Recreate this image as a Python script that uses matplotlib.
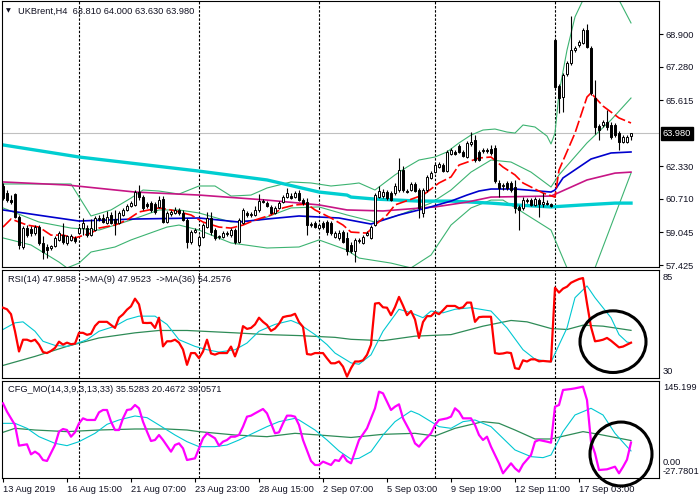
import matplotlib
matplotlib.use("Agg")
import matplotlib.pyplot as plt
import matplotlib.transforms as mtransforms
from matplotlib.patches import Ellipse

plt.rcParams['font.family'] = ['Liberation Sans', 'DejaVu Sans']

# ---- candles UKBrent H4 (bar index 0..157) ----
opens = [61.35, 61.00, 60.65, 60.95, 59.80, 58.30, 59.25, 59.20, 59.00, 59.30,
         58.50, 58.30, 58.25, 58.35, 58.65, 58.90, 58.50, 58.65, 58.75, 59.00,
         59.25, 59.25, 58.90, 59.15, 59.70, 59.75, 59.50, 59.90, 59.70, 59.50,
         59.90, 60.15, 60.35, 60.40, 61.05, 60.80, 60.45, 60.50, 60.45, 60.30,
         60.70, 59.55, 59.95, 60.00, 60.15, 60.00, 59.65, 58.55, 59.05, 58.40,
         58.80, 59.30, 59.75, 59.15, 58.80, 58.80, 58.95, 58.90, 59.15, 58.55,
         59.50, 60.00, 59.90, 59.90, 60.15, 60.60, 60.50, 60.30, 60.00, 60.25,
         60.55, 60.80, 60.85, 60.80, 61.00, 60.65, 60.55, 59.40, 59.50, 59.25,
         59.50, 59.55, 59.50, 58.80, 58.75, 59.05, 58.75, 58.40, 58.10, 58.60,
         58.50, 58.90, 58.75, 59.40, 60.80, 60.85, 61.05, 61.00, 61.00, 61.15,
         62.15, 61.10, 61.15, 61.45, 61.15, 60.00, 61.15, 61.75, 62.05, 62.30,
         62.40, 62.10, 62.95, 63.05, 63.35, 63.05, 62.80, 63.45, 63.65, 63.05,
         63.10, 63.15, 63.20, 63.25, 61.50, 61.35, 61.50, 61.50, 61.30, 60.30,
         60.25, 60.60, 60.65, 60.40, 60.65, 60.45, 60.50, 60.45, 68.60, 66.32,
         65.77, 66.91, 67.46, 68.11, 68.35, 68.45, 69.10, 68.20, 65.72, 64.33,
         64.38, 64.53, 64.38, 64.38, 63.98, 63.53, 63.53, 63.81]
highs = [61.50, 61.15, 60.90, 61.00, 59.90, 59.35, 59.40, 59.35, 59.40, 59.40,
         58.85, 58.45, 58.40, 58.85, 59.10, 59.50, 58.90, 58.95, 58.85, 59.35,
         59.75, 59.40, 59.70, 59.85, 59.90, 59.95, 60.10, 60.05, 60.15, 60.10,
         60.25, 60.45, 60.60, 61.15, 61.40, 60.90, 60.55, 60.60, 60.55, 60.85,
         60.85, 60.10, 60.15, 60.30, 60.25, 60.15, 59.75, 59.15, 59.25, 58.90,
         59.50, 60.05, 60.05, 59.25, 58.90, 59.10, 59.10, 59.25, 59.25, 59.75,
         60.25, 60.10, 60.05, 60.35, 60.95, 60.70, 60.60, 60.40, 60.35, 60.60,
         60.90, 61.25, 61.00, 61.10, 61.15, 60.75, 60.75, 59.55, 59.60, 59.50,
         59.60, 59.65, 59.60, 59.10, 59.15, 59.15, 59.05, 58.55, 58.75, 58.75,
         58.90, 59.10, 59.40, 61.00, 61.35, 61.20, 61.15, 61.10, 61.50, 62.75,
         62.35, 61.20, 61.55, 61.55, 61.25, 61.25, 61.90, 62.10, 62.50, 62.55,
         62.50, 63.15, 63.25, 63.15, 63.45, 63.15, 63.60, 64.05, 63.90, 63.15,
         63.25, 63.25, 63.40, 63.40, 61.65, 61.50, 61.60, 61.60, 61.65, 60.40,
         60.80, 60.75, 60.75, 60.80, 60.75, 61.00, 60.65, 60.50, 68.70, 66.42,
         66.96, 67.56, 69.79, 68.30, 68.60, 69.20, 69.40, 68.30, 66.62, 64.43,
         64.63, 65.12, 64.53, 64.48, 64.08, 63.88, 63.88, 64.00]
lows = [60.65, 60.55, 60.45, 59.75, 58.20, 58.20, 58.80, 58.85, 58.90, 58.40,
        57.70, 57.75, 58.15, 58.30, 58.60, 58.45, 58.40, 58.60, 58.50, 58.95,
        58.90, 58.80, 58.85, 59.10, 59.60, 59.50, 59.45, 59.45, 58.90, 59.45,
        59.85, 60.10, 60.30, 60.35, 60.65, 60.15, 60.25, 60.05, 59.95, 60.25,
        59.50, 59.50, 59.85, 59.95, 59.90, 59.60, 58.25, 58.45, 59.00, 58.30,
        58.75, 59.25, 58.90, 58.65, 58.70, 58.75, 58.85, 58.80, 58.45, 58.50,
        59.45, 59.80, 59.80, 59.85, 60.05, 60.50, 60.30, 59.95, 59.95, 60.20,
        60.50, 60.75, 60.70, 60.75, 60.60, 60.40, 58.90, 59.30, 59.25, 59.20,
        59.20, 58.90, 58.90, 58.75, 58.65, 58.50, 57.90, 58.00, 57.55, 58.50,
        58.45, 58.85, 58.70, 59.35, 60.75, 60.75, 60.65, 60.60, 60.90, 61.05,
        61.05, 61.00, 61.10, 61.05, 59.75, 59.80, 61.05, 61.70, 62.00, 62.25,
        62.05, 62.05, 62.90, 62.90, 63.00, 62.80, 62.75, 63.35, 62.55, 62.60,
        63.00, 63.00, 62.90, 61.50, 60.80, 61.15, 61.15, 61.05, 60.00, 59.15,
        60.15, 60.50, 60.35, 60.35, 59.80, 60.30, 60.40, 60.30, 66.22, 64.98,
        65.03, 66.81, 67.36, 68.01, 68.25, 68.40, 68.20, 65.87, 63.93, 63.63,
        64.28, 64.13, 63.68, 63.78, 63.14, 63.49, 63.49, 63.63]
closes = [60.75, 60.65, 60.55, 59.80, 58.40, 59.25, 58.90, 59.00, 59.30, 58.50,
          58.05, 58.15, 58.35, 58.75, 59.00, 58.55, 58.85, 58.85, 58.60, 59.25,
          59.50, 58.90, 59.25, 59.75, 59.75, 59.55, 59.80, 59.50, 59.50, 60.00,
          60.15, 60.35, 60.50, 61.05, 60.80, 60.25, 60.35, 60.15, 60.05, 60.65,
          59.55, 60.00, 60.05, 60.15, 60.00, 59.65, 58.55, 59.05, 59.15, 58.80,
          59.40, 59.75, 59.05, 58.75, 58.85, 59.00, 59.00, 59.15, 58.55, 59.65,
          60.15, 59.90, 59.95, 60.15, 60.60, 60.55, 60.35, 60.00, 60.25, 60.50,
          60.80, 61.00, 60.75, 61.00, 60.65, 60.50, 59.40, 59.45, 59.30, 59.40,
          59.30, 59.05, 59.00, 59.00, 59.00, 58.55, 58.10, 58.10, 58.65, 58.65,
          58.80, 59.00, 59.30, 60.90, 61.10, 61.05, 60.75, 60.65, 61.35, 62.15,
          61.15, 61.05, 61.45, 61.10, 60.25, 61.15, 61.80, 62.00, 62.40, 62.45,
          62.10, 63.05, 63.15, 62.95, 63.05, 62.85, 63.50, 63.55, 62.65, 62.65,
          63.15, 63.10, 63.00, 61.60, 61.25, 61.40, 61.25, 61.15, 60.25, 60.15,
          60.65, 60.65, 60.40, 60.70, 60.45, 60.55, 60.45, 60.35, 66.27, 65.72,
          66.86, 67.46, 68.11, 68.21, 68.50, 69.10, 68.25, 65.97, 64.28, 64.13,
          64.53, 64.28, 63.78, 63.88, 63.53, 63.78, 63.78, 63.98]

# ---- main window indicators (bar index, price) ----
ma_cyan_bars = [0, 19, 49, 66, 79, 86, 87, 93, 104, 112, 122, 128, 137, 145, 153, 157]
ma_cyan_vals = [63.39, 62.79, 62.09, 61.65, 61.05, 60.90, 60.80, 60.70, 60.60, 60.60,
                60.50, 60.41, 60.31, 60.41, 60.50, 60.50]
ma_mag_bars = [0, 16, 33, 49, 66, 79, 86, 95, 108, 116, 122, 137, 146, 153, 157]
ma_mag_vals = [61.55, 61.40, 61.05, 60.90, 60.65, 60.41, 60.16, 60.11, 60.31, 60.55,
               60.80, 60.85, 61.65, 61.99, 62.04]
ma_blue_bars = [0, 12, 19, 33, 49, 59, 66, 74, 79, 84, 92, 99, 106, 112, 116, 119,
                122, 128, 137, 138, 140, 147, 152, 157]
ma_blue_vals = [60.16, 59.81, 59.61, 59.71, 59.76, 59.56, 59.71, 59.86, 59.81, 59.76,
                59.46, 59.91, 60.26, 60.60, 60.90, 61.10, 61.20, 61.20, 61.05, 61.15,
                61.75, 62.69, 62.99, 63.04]
ma_red_bars = [0, 2, 6, 9, 12, 15, 18, 22, 24, 28, 31, 34, 39, 42, 47, 50, 54, 57, 60, 63,
               67, 70, 73, 76, 78, 82, 85, 87, 91, 93, 96, 98, 105, 109, 112, 114, 119,
               122, 125, 128, 130, 135, 138, 139, 143, 146, 147, 150, 154, 157]
ma_red_vals = [59.31, 59.71, 59.41, 59.31, 58.91, 58.91, 58.77, 59.01, 59.26, 59.41,
               59.66, 60.06, 60.26, 60.16, 59.91, 59.56, 59.31, 59.26, 59.41, 59.66,
               59.91, 60.26, 60.41, 60.45, 60.16, 59.76, 59.41, 59.06, 59.01, 59.41,
               59.91, 60.41, 60.90, 61.50, 61.80, 62.39, 62.74, 62.79, 62.29, 61.90,
               61.50, 61.00, 60.80, 62.14, 63.98, 65.77, 65.97, 65.32, 64.73, 64.48]
bb_up_bars = [0, 17, 22, 27, 32, 35, 39, 44, 49, 53, 57, 62, 66, 72, 77, 82, 87, 89, 93,
              98, 101, 104, 108, 111, 114, 117, 120, 123, 126, 128, 130, 133, 136, 137,
              138, 139, 141, 143, 145, 147, 150, 154, 157]
bb_up_vals = [61.45, 61.45, 59.86, 60.16, 60.75, 61.15, 61.10, 60.95, 61.35, 61.35,
              60.85, 60.90, 61.25, 61.55, 61.50, 61.35, 61.45, 61.50, 61.15, 61.90,
              62.29, 62.64, 62.79, 63.04, 63.49, 63.88, 64.13, 64.18, 64.03, 63.98,
              64.38, 64.28, 63.83, 63.44, 63.98, 65.97, 68.10, 69.75, 70.59, 71.19,
              71.48, 70.59, 69.45]
bb_mid_bars = [0, 9, 17, 24, 32, 39, 44, 49, 57, 64, 72, 79, 86, 93, 99, 107, 112, 117,
               122, 127, 132, 137, 139, 146, 152, 157]
bb_mid_vals = [60.26, 59.56, 59.26, 59.16, 59.66, 60.16, 60.16, 60.01, 59.56, 59.66,
               60.26, 60.31, 59.91, 59.56, 59.91, 60.50, 61.15, 62.04, 62.64, 62.54,
               62.04, 61.30, 61.90, 63.49, 64.63, 65.72]
bb_lo_bars = [0, 7, 14, 16, 19, 22, 28, 32, 41, 44, 49, 57, 66, 74, 79, 86, 89, 97, 102,
              107, 112, 117, 122, 125, 129, 137, 141, 144, 148, 157]
bb_lo_vals = [58.77, 58.42, 57.57, 57.28, 57.52, 58.07, 58.32, 58.67, 59.31, 59.41,
              59.16, 58.52, 58.27, 58.32, 58.67, 58.17, 57.77, 57.52, 57.28, 57.92,
              59.41, 60.26, 60.65, 60.65, 60.16, 59.16, 57.28, 56.43, 57.28, 61.99]

# ---- RSI(14) window ----
rsi = [65.8, 65.0, 62.5, 53.8, 43.5, 49.5, 49.5, 48.7, 49.5, 47.0,
       43.2, 42.7, 43.8, 45.3, 48.5, 47.0, 48.0, 47.2, 47.5, 53.0,
       53.0, 52.0, 52.5, 56.5, 58.6, 58.6, 58.6, 57.0, 55.5, 60.7,
       62.4, 64.8, 66.5, 70.4, 67.5, 58.1, 58.0, 58.1, 55.5, 60.7,
       46.1, 48.7, 48.7, 49.5, 48.0, 44.5, 36.7, 42.7, 42.7, 40.1,
       43.5, 49.5, 42.5, 41.9, 42.7, 42.7, 42.7, 46.0, 41.0, 46.5,
       56.4, 55.0, 55.5, 57.3, 60.7, 58.6, 57.0, 54.0, 55.2, 57.6,
       61.0, 61.5, 61.8, 62.7, 58.5, 56.0, 42.2, 41.9, 42.7, 42.7,
       42.7, 40.0, 37.5, 37.5, 38.4, 35.8, 30.7, 35.0, 38.4, 38.4,
       39.0, 41.8, 47.0, 67.9, 68.2, 66.0, 65.8, 62.0, 66.1, 71.3,
       66.9, 62.0, 64.1, 59.8, 50.4, 58.5, 61.5, 61.5, 63.5, 62.5,
       64.5, 66.7, 66.7, 66.7, 65.5, 66.0, 68.4, 68.4, 58.6, 61.0,
       61.2, 61.2, 61.2, 42.7, 42.3, 42.5, 43.0, 42.7, 35.0, 34.6,
       39.0, 38.4, 39.5, 39.5, 38.5, 38.7, 38.5, 38.4, 76.0, 73.5,
       75.5, 76.5, 78.5, 79.5, 80.4, 80.9, 68.0, 56.0, 48.7, 49.0,
       49.5, 50.4, 49.0, 47.3, 45.6, 46.0, 47.0, 47.99]
rsi_ma9_bars = [0, 3, 5, 8, 10, 13, 16, 18, 21, 24, 28, 31, 34, 38, 41, 44, 48, 51, 54,
                58, 61, 64, 68, 72, 74, 78, 81, 83, 87, 89, 92, 95, 99, 102, 105, 107,
                110, 113, 117, 122, 126, 130, 133, 137, 141, 143, 146, 148, 152, 154,
                156, 157]
rsi_ma9_vals = [54.7, 58.1, 58.6, 53.8, 48.7, 46.6, 46.1, 47.3, 49.5, 53.8,
                56.4, 59.8, 61.5, 61.5, 57.3, 49.5, 46.1, 44.4, 43.2, 44.4,
                47.8, 53.8, 57.3, 59.3, 57.6, 52.1, 47.0, 42.7, 37.7, 37.0,
                41.8, 53.8, 65.0, 63.2, 60.7, 64.1, 63.2, 65.0, 65.8, 64.1,
                55.5, 44.4, 39.6, 38.1, 55.5, 70.9, 76.9, 70.9, 60.7, 52.1,
                48.3, 47.95]
rsi_ma36_bars = [0, 8, 16, 24, 33, 39, 46, 58, 66, 74, 83, 87, 95, 103, 112, 120, 127,
                 131, 137, 141, 145, 150, 157]
rsi_ma36_vals = [36.4, 41.0, 46.1, 50.4, 53.0, 54.2, 54.2, 53.0, 52.1, 51.6, 50.7, 49.7,
                 49.0, 51.3, 52.1, 56.4, 59.3, 58.6, 55.2, 54.7, 56.9, 56.4, 54.26]

# ---- CFG_MO window ----
mo_bars = [0, 1, 3, 4, 5, 6, 7, 8, 9, 10, 11, 13, 14, 15, 16, 17, 18, 19, 20, 21,
           23, 24, 25, 26, 27, 28, 29, 30, 31, 32, 33, 34, 35, 36, 37, 38, 39, 40, 42, 43,
           44, 45, 46, 48, 49, 50, 51, 53, 54, 55, 56, 57, 58, 59, 60, 61, 62, 63, 65, 66,
           67, 68, 69, 70, 71, 72, 73, 74, 75, 77, 78, 79, 80, 82, 83, 84, 85, 86, 87, 88,
           89, 91, 93, 94, 95, 96, 97, 98, 99, 100, 102, 103, 104, 105, 107, 108, 109,
           111, 112, 113, 114, 115, 117, 118, 119, 120, 121, 122, 124, 125, 126, 127,
           128, 129, 130, 132, 133, 134, 136, 137, 138, 139, 140, 142, 143, 145, 146,
           147, 148, 149, 151, 153, 154, 155, 156, 157]
mo_vals = [105.4, 90.5, 66.7, 29.9, 31.1, 32.3, 14.4, 19.2, 14.4, 4.3,
           2.6, 31.1, 54.9, 59.6, 57.8, 45.9, 53.7, 69.7, 78.6, 75.7,
           75.7, 89.3, 93.5, 93.5, 72.7, 57.8, 57.8, 78.6, 93.5, 94.7,
           102.4, 96.5, 72.7, 54.9, 38.2, 40.0, 48.9, 40.0, 19.2, 31.1,
           34.0, 25.1, 4.3, 7.3, 25.1, 43.0, 51.9, 43.0, 29.9, 37.0,
           40.0, 45.9, 45.9, 48.9, 63.8, 81.6, 83.4, 87.5, 95.3, 87.5,
           69.7, 51.9, 53.7, 69.7, 83.4, 83.4, 81.6, 66.7, 40.0, 2.6,
           -4.6, -4.6, 1.4, -4.6, 4.3, 2.6, 13.2, 2.6, -1.6, 19.2,
           40.0, 60.8, 96.5, 126.2, 123.2, 108.3, 93.5, 99.4, 103.6, 78.6,
           51.9, 34.0, 28.1, 37.0, 51.9, 66.7, 75.7, 78.6, 81.6, 96.5,
           90.5, 78.6, 78.6, 66.7, 48.9, 40.0, 45.9, 28.1, -1.6, -19.4,
           -10.5, -1.6, -10.5, -16.5, -3.4, 13.2, 37.0, 40.0, 37.0, 35.2,
           99.4, 102.4, 129.2, 130.9, 132.1, 135.1, 111.3, 37.0, 16.2, -13.5,
           -12.3, -7.6, -19.4, -8.0, 5.0, 35.53]
mo_sig_bars = [0, 3, 6, 9, 13, 16, 19, 23, 26, 29, 33, 36, 39, 43, 46, 49, 53, 56, 59, 63,
               66, 69, 73, 74, 78, 81, 84, 87, 89, 92, 95, 98, 102, 104, 107, 109, 112,
               115, 118, 122, 125, 128, 132, 135, 137, 140, 143, 147, 150, 153, 156, 157]
mo_sig_vals = [69.7, 69.7, 60.8, 45.9, 34.0, 29.9, 37.0, 51.9, 67.9, 75.7,
               82.8, 79.8, 66.7, 48.9, 37.0, 28.1, 28.1, 31.1, 40.0, 53.7,
               63.8, 72.7, 78.6, 75.7, 57.8, 40.0, 20.4, 5.8, 7.3, 19.2,
               48.9, 72.7, 91.7, 85.8, 72.7, 63.8, 60.8, 72.7, 75.7, 63.8,
               43.0, 22.2, 10.3, 8.5, 13.2, 54.9, 84.6, 96.5, 84.6, 51.9,
               28.1, 20.47]
mo_slow_bars = [0, 3, 8, 16, 24, 33, 41, 46, 49, 58, 66, 73, 79, 87, 95, 103, 108, 113,
                120, 124, 128, 133, 137, 145, 149, 157]
mo_slow_vals = [53.7, 60.8, 57.8, 54.9, 57.8, 59.6, 59.6, 57.8, 54.9, 48.9, 45.9, 51.9,
                48.9, 44.5, 50.1, 51.9, 47.1, 60.8, 72.7, 69.7, 57.8, 41.8, 41.8, 54.9,
                50.1, 39.06]

# ---- axis texts ----
price_ticks = [57.425, 59.045, 60.710, 62.330, 65.615, 67.280, 68.900]
last_price = 63.98
separators = [19, 49, 79, 108, 138]
date_bars = [0, 16, 32, 48, 64, 80, 96, 112, 128, 144]
date_labels = ['13 Aug 2019', '16 Aug 15:00', '21 Aug 07:00', '23 Aug 23:00',
               '28 Aug 15:00', '2 Sep 07:00', '5 Sep 03:00', '9 Sep 19:00',
               '12 Sep 11:00', '17 Sep 03:00']

W, H = 700, 500
FS = 6.7
TXT = '#111122'

fig = plt.figure(figsize=(7, 5), dpi=100)


def px_axes(x0, y0, x1, y1):
    return fig.add_axes([x0 / W, 1 - y1 / H, (x1 - x0) / W, (y1 - y0) / H])


ax = px_axes(2, 1, 659, 267)
ax_rsi = px_axes(2, 270, 659, 378)
ax_mo = px_axes(2, 381, 659, 478)

for a in (ax, ax_rsi, ax_mo):
    a.set_xlim(-0.25, 164)
    for s in a.spines.values():
        s.set_linewidth(0.8)
        s.set_color('black')
    a.set_xticks([])
    a.set_yticks([])
    for b in separators:
        a.axvline(b, color='black', lw=0.8, dashes=(2.2, 1.5), zorder=1)

# main window
ax.set_ylim(57.326, 70.54)
ax.axhline(last_price, color='#c0c0c0', lw=0.8, zorder=0.5)
ax.plot(bb_up_bars, bb_up_vals, color='#3cb371', lw=0.8, zorder=2)
ax.plot(bb_mid_bars, bb_mid_vals, color='#3cb371', lw=0.8, zorder=2)
ax.plot(bb_lo_bars, bb_lo_vals, color='#3cb371', lw=0.8, zorder=2)
ax.plot(ma_cyan_bars, ma_cyan_vals, color='#00ced1', lw=2.4, zorder=2)
ax.plot(ma_mag_bars, ma_mag_vals, color='#c71585', lw=1.2, zorder=2)
ax.plot(ma_blue_bars, ma_blue_vals, color='#0000cd', lw=1.2, zorder=2)
ax.plot(ma_red_bars, ma_red_vals, color='#ff0000', lw=1.2, dashes=(7, 2), zorder=2)

idx = list(range(len(closes)))
ax.vlines(idx, lows, highs, color='black', lw=0.8, zorder=3)
bottoms = [min(o, c) for o, c in zip(opens, closes)]
heights = [abs(c - o) for o, c in zip(opens, closes)]
faces = ['white' if c >= o else 'black' for o, c in zip(opens, closes)]
ax.bar(idx, heights, bottom=bottoms, width=0.6, color=faces, edgecolor='black',
       linewidth=0.7, zorder=4)

ax.yaxis.tick_right()
ax.set_yticks(price_ticks)
ax.set_yticklabels(['%.3f' % v for v in price_ticks])
ax.tick_params(axis='y', length=3, width=0.8, pad=1.5, labelsize=FS, colors='black',
               labelcolor=TXT)
btrans = mtransforms.blended_transform_factory(ax.transAxes, ax.transData)
ax.text(1.006, last_price, '%.3f' % last_price, transform=btrans, color='white',
        fontsize=FS, va='center', ha='left', clip_on=False, zorder=10,
        bbox=dict(boxstyle='square,pad=0.22', facecolor='black', edgecolor='black'))

fig.text(8 / W, 1 - 11 / H, '\u25bc', fontsize=4.5, family='DejaVu Sans',
         va='center', ha='center', color=TXT)
fig.text(18 / W, 1 - 11 / H, 'UKBrent,H4  %.3f %.3f %.3f %.3f'
         % (opens[-1], highs[-1], lows[-1], closes[-1]),
         fontsize=FS, va='center', ha='left', color=TXT)

# RSI window
ax_rsi.set_ylim(30, 85)
ax_rsi.plot(rsi_ma36_bars, rsi_ma36_vals, color='#2e8b57', lw=0.9, zorder=2)
ax_rsi.plot(rsi_ma9_bars, rsi_ma9_vals, color='#00c8d2', lw=0.8, zorder=2)
ax_rsi.plot(idx, rsi, color='#ff0000', lw=1.6, zorder=3)
fig.text(8 / W, 1 - 280 / H, 'RSI(14) %.4f  ->MA(9) 47.9523  ->MA(36) 54.2576' % 47.9858,
         fontsize=FS, va='center', ha='left', color=TXT)
ax_rsi.text(1.006, 1 - 7 / 108, '85', transform=ax_rsi.transAxes, fontsize=FS,
            va='center', ha='left', color=TXT)
ax_rsi.text(1.006, 6 / 108, '30', transform=ax_rsi.transAxes, fontsize=FS,
            va='center', ha='left', color=TXT)
ax_rsi.add_patch(Ellipse((152.5, 48.5), 16.5, 31.4, fill=False, lw=2.2,
                         edgecolor='black', clip_on=False, zorder=6))

# CFG_MO window
ax_mo.set_ylim(-27.7801, 145.199)
ax_mo.plot(mo_slow_bars, mo_slow_vals, color='#2e8b57', lw=0.9, zorder=2)
ax_mo.plot(mo_sig_bars, mo_sig_vals, color='#00c8d2', lw=0.8, zorder=2)
ax_mo.plot(mo_bars, mo_vals, color='#ff00ff', lw=1.6, zorder=3)
fig.text(8 / W, 1 - 390 / H, 'CFG_MO(14,3,9,3,13,33) 35.5283 20.4672 39,0571',
         fontsize=FS, va='center', ha='left', color=TXT)
ax_mo.text(1.006, 1 - 7 / 97, '145.199', transform=ax_mo.transAxes, fontsize=FS,
           va='center', ha='left', color=TXT)
mtrans = mtransforms.blended_transform_factory(ax_mo.transAxes, ax_mo.transData)
ax_mo.text(1.006, 0.0, '0.00', transform=mtrans, fontsize=FS, va='center', ha='left',
           color=TXT)
ax_mo.text(1.006, 6 / 97, '-27.7801', transform=ax_mo.transAxes, fontsize=FS,
           va='center', ha='left', color=TXT)
ax_mo.add_patch(Ellipse((154.5, 15.0), 15.5, 114, fill=False, lw=2.2,
                        edgecolor='black', clip_on=False, zorder=6))

ax_mo.set_xticks(date_bars)
ax_mo.set_xticklabels(date_labels, ha='left')
ax_mo.tick_params(axis='x', length=3, width=0.8, pad=2, labelsize=FS, labelcolor=TXT)

fig.savefig('out.png', dpi=100)
